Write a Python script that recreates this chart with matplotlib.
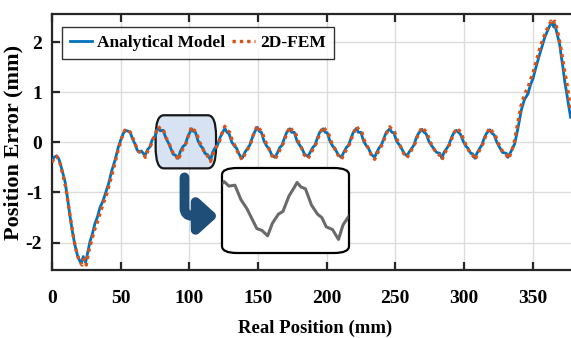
import matplotlib
matplotlib.use("Agg")
import matplotlib.pyplot as plt
from matplotlib.patches import FancyBboxPatch

plt.rcParams['font.family'] = ['Liberation Serif', 'DejaVu Serif']
plt.rcParams['font.weight'] = 'bold'
plt.rcParams['axes.unicode_minus'] = False

# analytical model (x mm, y mm)
model_x = [0, 1.5, 3.4, 5, 7, 9.5, 11, 13, 15, 16.7, 18.5, 20.4, 21.5, 22.8, 24.5, 26, 27.7, 29.5, 31.3, 33,
           35, 37, 39.8, 41.5, 43.4, 46, 48.3, 50.5, 52, 53.5, 55.5, 57, 58.5, 60.4, 62, 63.5, 65, 66.5, 67.7,
           69.5, 71.3, 73, 75, 76.5, 77.4, 79, 81, 83, 85, 86.5, 88.3, 90, 91.9, 93.5, 95.5, 97, 99, 100.5,
           101.7, 103, 104.5, 106.5, 108.5, 110, 111.4, 113.5, 115.5, 117, 119, 120.5, 122.5, 124, 125.9,
           127.5, 129, 131, 133, 134.5, 136.5, 138.5, 140.5, 142.5, 144, 146, 147.5, 149.5, 151, 152.5, 154.5,
           156.5, 158, 160, 162.3, 164, 166, 167.5, 169.5, 171, 173.2, 174.5, 176.5, 178.5, 180.5, 182, 184,
           186.5, 188, 190, 191.5, 193.5, 195, 197.5, 199, 200.5, 202.5, 204.5, 206, 208.5, 210.8, 212.5,
           214.5, 216, 218, 219.5, 221.8, 223, 225, 227, 229, 230.5, 232.5, 235, 236.5, 238.5, 240, 242,
           243.5, 246, 247.5, 249, 251, 253, 254.5, 256.5, 258.5, 260, 262, 263.5, 265.5, 267, 269.5, 271,
           272.5, 274.5, 276.5, 278, 280, 282.4, 284, 285.5, 287.5, 289, 291, 292.5, 294.5, 296, 297.5, 299.5,
           301.5, 303, 305, 306.5, 308, 309.5, 311.5, 313, 315, 316.5, 318.8, 320.5, 322, 324, 326, 328,
           330.9, 332, 334, 337, 339.5, 341.8, 344, 346.7, 348.5, 350.3, 352.5, 355.2, 357, 358.8, 360.5,
           362.5, 364.4, 365.5, 366.3, 367.3, 369.7, 371, 372.1, 373.5, 374.6, 376, 377.7]
model_y = [-0.38, -0.30, -0.27, -0.33, -0.52, -0.78, -1.05, -1.45, -1.80, -2.05, -2.25, -2.38, -2.40, -2.28,
           -2.40, -2.20, -1.98, -1.82, -1.62, -1.50, -1.30, -1.18, -0.95, -0.80, -0.58, -0.35, -0.10, 0.08,
           0.18, 0.24, 0.22, 0.20, 0.08, -0.03, -0.15, -0.20, -0.17, -0.22, -0.27, -0.15, -0.09, 0.05, 0.12,
           0.25, 0.28, 0.23, 0.24, 0.08, -0.02, -0.12, -0.24, -0.26, -0.32, -0.18, -0.08, -0.05, 0.12, 0.20,
           0.27, 0.22, 0.20, 0.02, -0.08, -0.12, -0.22, -0.25, -0.36, -0.20, -0.10, -0.06, 0.10, 0.18, 0.28,
           0.20, 0.17, 0.00, -0.08, -0.12, -0.25, -0.32, -0.20, -0.12, -0.06, 0.10, 0.20, 0.30, 0.22, 0.20,
           0.02, -0.08, -0.12, -0.25, -0.30, -0.22, -0.10, -0.06, 0.10, 0.20, 0.27, 0.20, 0.20, 0.02, -0.06,
           -0.12, -0.24, -0.28, -0.20, -0.10, -0.06, 0.10, 0.20, 0.27, 0.20, 0.19, 0.02, -0.08, -0.12, -0.25,
           -0.30, -0.20, -0.10, -0.06, 0.10, 0.20, 0.28, 0.20, 0.20, 0.02, -0.07, -0.12, -0.24, -0.30, -0.20,
           -0.10, -0.05, 0.10, 0.20, 0.27, 0.20, 0.19, 0.02, -0.05, -0.12, -0.22, -0.27, -0.20, -0.12, -0.06,
           0.10, 0.18, 0.26, 0.20, 0.17, 0.02, -0.07, -0.12, -0.20, -0.22, -0.32, -0.20, -0.12, -0.06, 0.10,
           0.18, 0.24, 0.20, 0.16, 0.02, -0.08, -0.12, -0.22, -0.23, -0.32, -0.22, -0.12, -0.06, 0.10, 0.18,
           0.25, 0.18, 0.15, 0.00, -0.10, -0.20, -0.22, -0.30, -0.20, -0.03, 0.30, 0.64, 0.85, 0.97, 1.15,
           1.27, 1.50, 1.76, 1.92, 2.09, 2.20, 2.33, 2.39, 2.30, 2.35, 2.23, 1.96, 1.70, 1.50, 1.20, 1.03,
           0.78, 0.50]

# 2D-FEM
fem_x = [0, 2, 3.5, 5.5, 8, 10, 12, 14, 16, 18, 20, 22, 23.5, 25, 27, 29, 31, 33, 35, 37, 40, 43, 46, 48.5,
         51, 53, 55, 57, 59, 61, 63, 65, 67, 68, 70, 72, 74, 76, 77.4, 79, 81, 83, 85, 87, 89, 90.5, 92, 94,
         96, 98, 100, 101.7, 103.5, 105, 107, 109, 111, 113, 115.5, 117.5, 119.5, 121.5, 123.5, 125.9, 127.5,
         129.5, 131.5, 133.5, 136, 138.5, 140.5, 142.5, 144.5, 146.5, 149.5, 151.5, 153, 155, 157, 159.5,
         162.3, 164.5, 166.5, 168.5, 170.5, 173.2, 175, 177, 179, 181, 183.5, 186.5, 188.5, 190.5, 192.5,
         194.5, 197.5, 199.5, 201, 203, 205, 208, 210.8, 213, 215, 217, 219, 221.8, 223.5, 225.5, 227.5,
         229.5, 232.5, 235, 237, 239, 241, 243, 246, 248, 249.5, 251.5, 253.5, 256.5, 258.5, 260.5, 262.5,
         264.5, 266.5, 269.5, 271.5, 273, 275, 277, 280, 282.5, 284, 286, 288, 290, 292, 294.5, 296.5, 298,
         300, 302, 305, 306.5, 308, 310, 312, 314, 316, 318.8, 320.5, 322.5, 324.5, 326.5, 329, 331, 332.5,
         334.5, 336.5, 339, 341.5, 344, 346.5, 348.5, 350.5, 353, 355.5, 357.5, 359.5, 361.5, 363.5, 365,
         366, 367.5, 369, 370.5, 372, 373.5, 375, 376.5, 378]
fem_y = [-0.40, -0.30, -0.28, -0.38, -0.65, -0.90, -1.25, -1.60, -1.95, -2.20, -2.38, -2.45, -2.33, -2.45,
         -2.15, -1.95, -1.75, -1.60, -1.42, -1.25, -1.02, -0.72, -0.40, -0.12, 0.10, 0.24, 0.26, 0.20, 0.08,
         -0.06, -0.18, -0.20, -0.24, -0.30, -0.16, -0.06, 0.08, 0.20, 0.32, 0.26, 0.26, 0.10, 0.00, -0.14,
         -0.26, -0.28, -0.36, -0.20, -0.10, 0.00, 0.18, 0.31, 0.24, 0.22, 0.04, -0.08, -0.20, -0.26, -0.38,
         -0.22, -0.10, -0.02, 0.16, 0.32, 0.24, 0.20, 0.02, -0.08, -0.24, -0.35, -0.24, -0.14, -0.04, 0.14,
         0.33, 0.25, 0.22, 0.04, -0.06, -0.24, -0.34, -0.24, -0.12, -0.02, 0.14, 0.31, 0.24, 0.22, 0.04,
         -0.06, -0.24, -0.33, -0.22, -0.12, -0.02, 0.14, 0.31, 0.24, 0.21, 0.04, -0.08, -0.24, -0.34, -0.22,
         -0.12, -0.02, 0.14, 0.32, 0.25, 0.22, 0.04, -0.07, -0.25, -0.34, -0.22, -0.12, -0.02, 0.14, 0.31,
         0.24, 0.21, 0.04, -0.06, -0.24, -0.31, -0.22, -0.12, -0.02, 0.14, 0.30, 0.24, 0.20, 0.04, -0.08,
         -0.22, -0.26, -0.35, -0.22, -0.12, -0.02, 0.14, 0.28, 0.24, 0.18, 0.04, -0.08, -0.24, -0.26, -0.35,
         -0.24, -0.12, -0.02, 0.14, 0.29, 0.22, 0.17, 0.02, -0.10, -0.22, -0.26, -0.33, -0.20, -0.02, 0.35,
         0.72, 0.95, 1.08, 1.25, 1.40, 1.65, 1.90, 2.05, 2.20, 2.32, 2.42, 2.36, 2.42, 2.30, 2.12, 1.90,
         1.65, 1.40, 1.18, 0.90, 0.62]

x_ticks = [0, 50, 100, 150, 200, 250, 300, 350]
y_ticks = [-2, -1, 0, 1, 2]

fig = plt.figure(figsize=(5.71, 3.38), dpi=100)
ax = fig.add_axes([0.091, 0.201, 0.909, 0.7574])

ax.plot(model_x, model_y, color='#0072BD', lw=2.0, label='Analytical Model', zorder=3)
ax.plot(fem_x, fem_y, color='#D95319', lw=2.4, ls=(0, (1, 1.2)), label='2D-FEM', zorder=4)

ax.set_xlim(0, 378)
ax.set_ylim(-2.55, 2.56)
ax.set_xticks(x_ticks)
ax.set_yticks(y_ticks)
ax.grid(True, color='#dcdcdc', lw=1.0)
ax.set_axisbelow(True)
for s in ['left', 'bottom', 'top']:
    ax.spines[s].set_linewidth(1.6)
    ax.spines[s].set_color('#262626')
ax.spines['right'].set_visible(False)
ax.tick_params(direction='in', length=6, width=1.6, color='#262626', labelsize=14,
               top=True, right=False)
ax.tick_params(axis='x', pad=14)
ax.tick_params(axis='y', pad=7)

ax.set_xlabel('Real Position (mm)', fontsize=13.5, fontweight='bold')
ax.xaxis.set_label_coords(0.507, -0.195)
ax.set_ylabel('Position Error (mm)', fontsize=16, fontweight='bold')
ax.yaxis.set_label_coords(-0.054, 0.5)

leg = ax.legend(loc='upper left', ncol=2, fontsize=12.5, frameon=True, fancybox=False,
                handlelength=1.3, handletextpad=0.3, columnspacing=0.4,
                borderpad=0.45, borderaxespad=0, bbox_to_anchor=(0.019, 0.95))
leg.get_frame().set_edgecolor('black')
leg.get_frame().set_linewidth(1.0)

# highlighted region
hl = FancyBboxPatch((75.5, -0.52), 44, 1.06, boxstyle='round,pad=0,rounding_size=6',
                    mutation_aspect=0.07, fc='#d3e0f2', ec='black', lw=1.6, alpha=0.9, zorder=2)
ax.add_patch(hl)

# arrow
ax.annotate('', xy=(121, -1.47), xytext=(96.5, -0.70),
            arrowprops=dict(arrowstyle='-|>,head_length=0.55,head_width=0.5',
                            connectionstyle='angle,angleA=-90,angleB=180,rad=8',
                            color='#1f4e79', lw=7, shrinkA=0, shrinkB=0, mutation_scale=20))

# zoom inset
ins = fig.add_axes([222 / 571, 1 - 253 / 338, 127 / 571, 85 / 338])
ins.plot(model_x, model_y, color='#505050', lw=2.2, alpha=0.85)
ins.set_xlim(76.7, 119)
ins.set_ylim(-0.51, 0.43)
ins.axis('off')
frame = FancyBboxPatch((0.0, 0.0), 1, 1, boxstyle='round,pad=0,rounding_size=0.12',
                       mutation_aspect=0.67, transform=ins.transAxes, fc='white', ec='black',
                       lw=1.6, zorder=0, clip_on=False)
ins.add_patch(frame)
ins.patch.set_visible(False)

fig.savefig('out.png', dpi=100)
